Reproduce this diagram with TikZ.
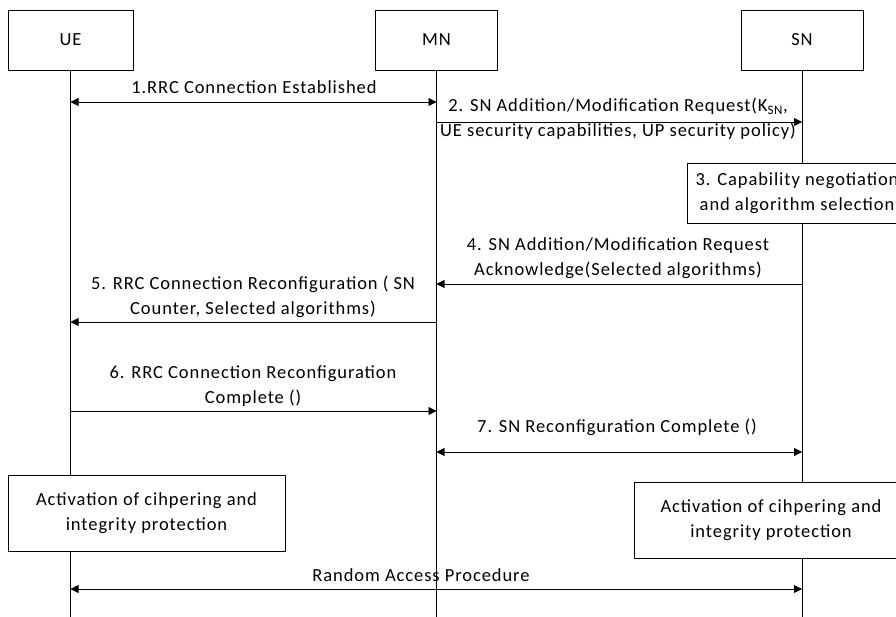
\documentclass[tikz,border=0pt]{standalone}
\usepackage{fontspec}
\setmainfont{Carlito}
\newfontfamily\lblfont[LetterSpace=5]{Carlito}
\usetikzlibrary{arrows.meta}
\begin{document}
\begin{tikzpicture}[x=1pt,y=-1pt,
  txt/.style={font=\lblfont\fontsize{18.5}{25}\selectfont},
  ent/.style={txt, draw, fill=white, line width=0.8pt, minimum width=122pt, minimum height=60pt, inner sep=0pt},
  life/.style={line width=0.8pt},
  tip/.tip={Triangle[length=8pt,width=8pt]},
  msg/.style={line width=0.8pt, -tip},
  dmsg/.style={line width=0.8pt, tip-tip},
  lbl/.style={txt, align=center, inner sep=0pt},
  act/.style={txt, draw, fill=white, line width=0.8pt, align=center, inner sep=0pt}]
\clip (0,0) rectangle (896,617);
% entities
\node[ent, minimum width=125pt] (ue) at (70.5,40) {UE};
\node[ent] (mn) at (436.5,40) {MN};
\node[ent] (sn) at (802,40) {SN};
\coordinate (ueend) at (70.5,617);
\coordinate (mnend) at (436.5,617);
\coordinate (snend) at (802,617);
\draw[life] (ue) -- (ueend);
\draw[life] (mn) -- (mnend);
\draw[life] (sn) -- (snend);
% 1
\coordinate (m1a) at (70.5,102); \coordinate (m1b) at (436.5,102);
\draw[dmsg] (m1a) -- (m1b);
\node[lbl] (l1) at (254,87) {1.RRC Connection Established};
% 2
\coordinate (m2a) at (436.5,122); \coordinate (m2b) at (802,122);
\draw[msg] (m2a) -- (m2b);
\node[lbl] (l2) at (618,119) {2. SN Addition/Modification Request(K\textsubscript{SN},\\UE security capabilities, UP security policy)};
% 3
\node[act, minimum width=220pt, minimum height=60pt] (b3) at (797,193) {3. Capability negotiation\\and algorithm selection};
% 4
\coordinate (m4a) at (802,284); \coordinate (m4b) at (436.5,284);
\draw[msg] (m4a) -- (m4b);
\node[lbl] (l4) at (618,258) {4. SN Addition/Modification Request\\Acknowledge(Selected algorithms)};
% 5
\coordinate (m5a) at (436.5,322); \coordinate (m5b) at (70.5,322);
\draw[msg] (m5a) -- (m5b);
\node[lbl] (l5) at (253,297) {5. RRC Connection Reconfiguration ( SN\\Counter, Selected algorithms)};
% 6
\coordinate (m6a) at (70.5,411); \coordinate (m6b) at (436.5,411);
\draw[msg] (m6a) -- (m6b);
\node[lbl] (l6) at (253,386) {6. RRC Connection Reconfiguration\\Complete ()};
% 7
\coordinate (m7a) at (436.5,452); \coordinate (m7b) at (802,452);
\draw[dmsg] (m7a) -- (m7b);
\node[lbl] (l7) at (617,427) {7. SN Reconfiguration Complete ()};
% activation boxes
\node[act, minimum width=277pt, minimum height=76pt] (aue) at (146.5,513) {Activation of cihpering and\\integrity protection};
\node[act, minimum width=274pt, minimum height=76pt] (asn) at (771,520) {Activation of cihpering and\\integrity protection};
% random access
\coordinate (ra) at (70.5,589); \coordinate (rb) at (802,589);
\draw[dmsg] (ra) -- (rb);
\node[lbl] (lr) at (421,575) {Random Access Procedure};
\end{tikzpicture}
\end{document}
